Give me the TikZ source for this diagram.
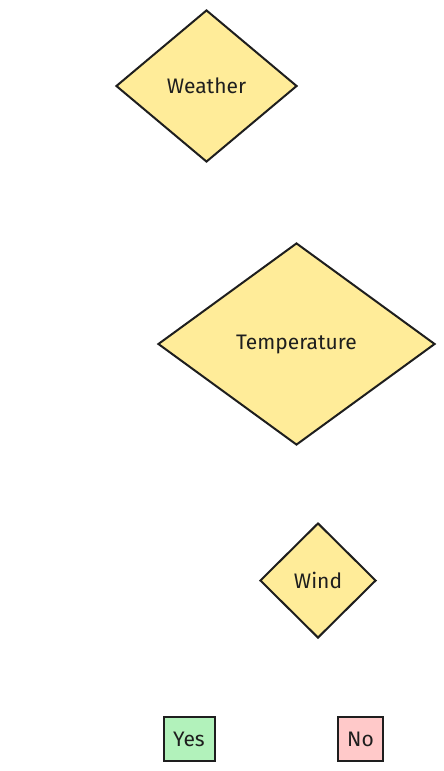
\documentclass[tikz,border=0pt]{standalone}
\usepackage{fontspec}
\setmainfont{Fira Sans}
\usetikzlibrary{shapes.geometric}
\definecolor{stroke}{HTML}{1E1E1E}
\definecolor{yel}{HTML}{FFEC99}
\definecolor{grn}{HTML}{B2F2BB}
\definecolor{pnk}{HTML}{FFC9C9}
\tikzset{
  decision/.style={diamond, draw=stroke, fill=yel, line width=2pt, inner sep=0pt, font=\fontsize{21}{24}\selectfont, text=stroke},
  leaf/.style={rectangle, draw=stroke, line width=2pt, inner sep=0pt, font=\fontsize{21}{24}\selectfont, text=stroke}
}
\begin{document}
\begin{tikzpicture}[x=1pt,y=-1pt]
\useasboundingbox (0,0) rectangle (444,771);
\node[decision, minimum width=181pt, minimum height=152pt] (weather) at (206.5,86) {Weather};
\node[decision, minimum width=277pt, minimum height=202pt] (temp) at (296.5,344) {Temperature};
\node[decision, minimum width=116pt, minimum height=115pt] (wind) at (318,580.5) {Wind};
\node[leaf, fill=grn, minimum width=51pt, minimum height=44pt] (yes) at (189,739) {Yes};
\node[leaf, fill=pnk, minimum width=45pt, minimum height=44pt] (no) at (360.5,739) {No};
\end{tikzpicture}
\end{document}
